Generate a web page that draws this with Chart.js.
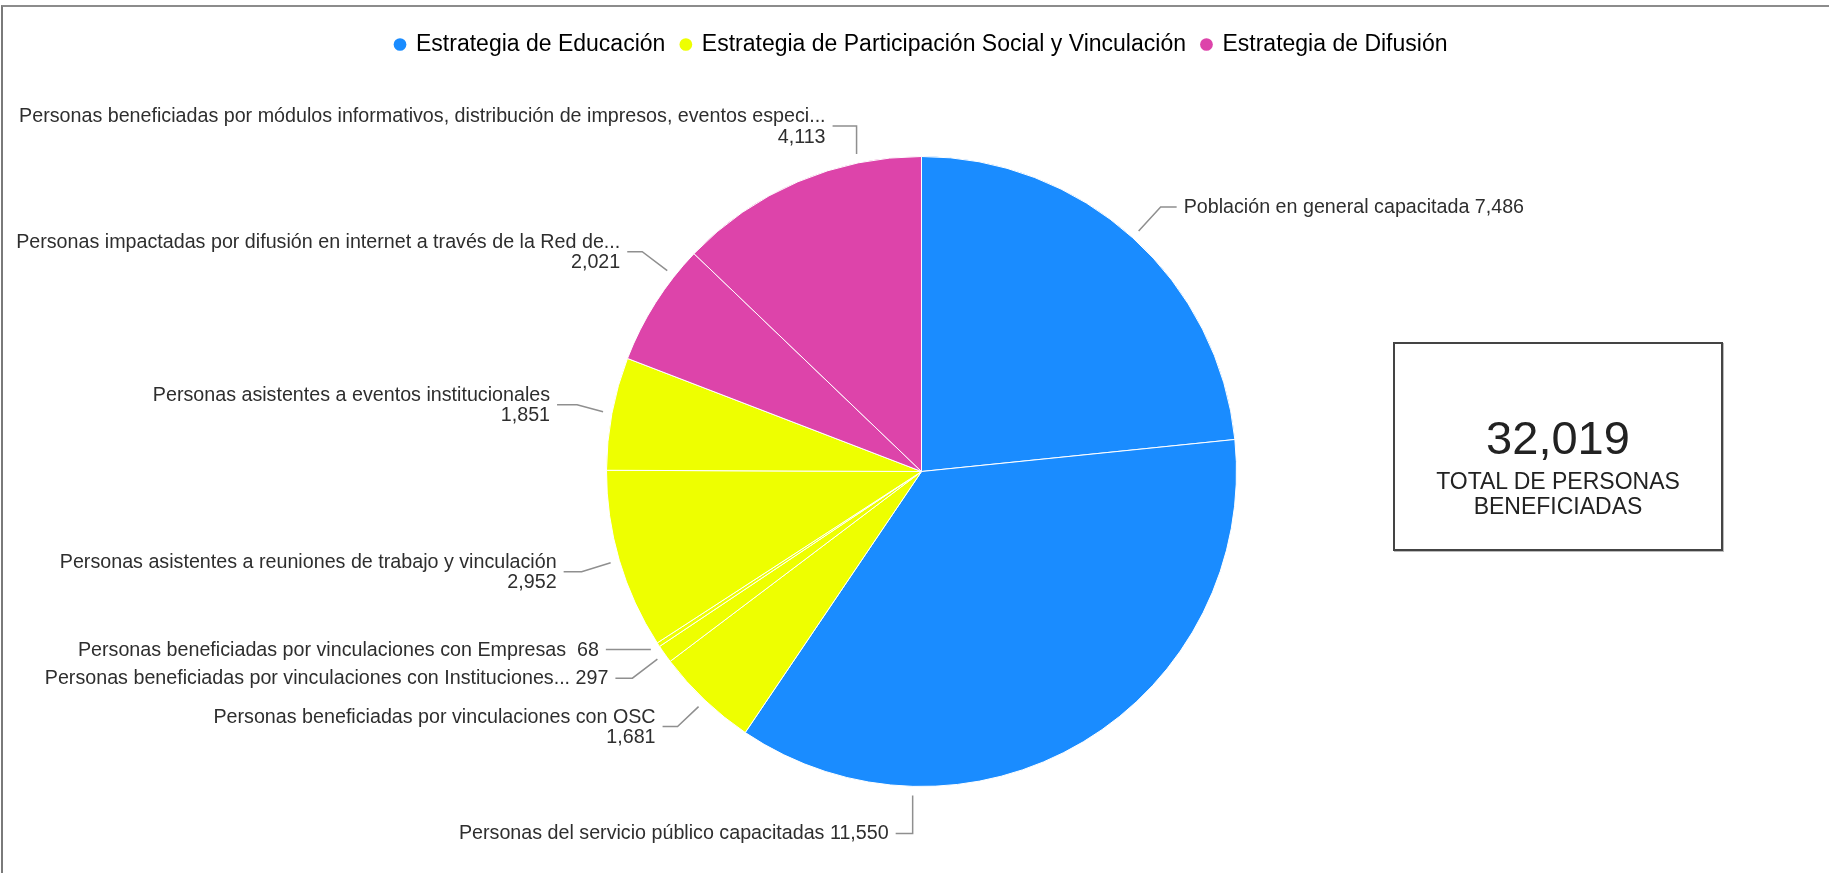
<!DOCTYPE html>
<html lang="es">
<head>
<meta charset="utf-8">
<title>Personas beneficiadas por estrategia</title>
<script src="https://cdn.jsdelivr.net/npm/chart.js@4.4.1/dist/chart.umd.min.js"></script>
<style>
    html, body { margin: 0; padding: 0; background: #fff; overflow: hidden; }
    #frame { position: absolute; left: 1px; top: 5px; width: 1840px; height: 866px;
             border-top: 2px solid #8c8c8c; border-left: 2px solid #7a7a7a; }
    #pieChart { position: absolute; left: 0; top: 0; }
    #total { position: absolute; left: 1393px; top: 342px; width: 330px; height: 209px;
             box-sizing: border-box; border: 2px solid #444; box-shadow: 1px 1px 0 #bbb;
             text-align: center; color: #222; font-family: "Liberation Sans", Arial, sans-serif; }
    #total_num { margin-top: 68px; font-size: 47px; line-height: 52px; }
    #total_cap { margin-top: 5px; font-size: 23px; line-height: 25px; }
</style>
</head>
<body>
<div id="frame"></div>
<canvas id="pieChart" width="1829" height="877"></canvas>
<div id="total"><div id="total_num"></div><div id="total_cap"></div></div>

<script>
// slices, clockwise from 12 o'clock
var categories = [
    'Población en general capacitada',
    'Personas del servicio público capacitadas',
    'Personas beneficiadas por vinculaciones con OSC',
    'Personas beneficiadas por vinculaciones con Instituciones...',
    'Personas beneficiadas por vinculaciones con Empresas ',
    'Personas asistentes a reuniones de trabajo y vinculación',
    'Personas asistentes a eventos institucionales',
    'Personas impactadas por difusión en internet a través de la Red de...',
    'Personas beneficiadas por módulos informativos, distribución de impresos, eventos especi...'
];
var values = [7486, 11550, 1681, 297, 68, 2952, 1851, 2021, 4113];
var strategyOf = [0, 0, 1, 1, 1, 1, 1, 2, 2];
var strategies = ['Estrategia de Educación', 'Estrategia de Participación Social y Vinculación', 'Estrategia de Difusión'];
var totalCaption = 'TOTAL DE PERSONAS BENEFICIADAS';

// styling
var strategyColors = ['#1a8cff', '#eeff00', '#dd44aa'];
var fontFamily = '"Liberation Sans", Arial, sans-serif';

// leader lines: where on the slice (0..1), elbow offset, horizontal run, two lines or one
var labelLayout = [
    { at: 0.50, dx: 22,  dy: -24, h: 16,  wrap: false },
    { at: 0.75, dx: 0,   dy: 38,  h: -17, wrap: false },
    { at: 0.50, dx: -21, dy: 20,  h: -15, wrap: true },
    { at: 0.50, dx: -25, dy: 19,  h: -17, wrap: false },
    { at: 0.50, dx: -27, dy: 0,   h: -18, wrap: false },
    { at: 0.50, dx: -29, dy: 9,   h: -18, wrap: true },
    { at: 0.50, dx: -26, dy: -7,  h: -20, wrap: true },
    { at: 0.76, dx: -25, dy: -19, h: -15, wrap: true },
    { at: 0.75, dx: 0,   dy: -28, h: -24, wrap: true }
];

function fmt(n) {
    return n.toLocaleString('en-US');
}

// total box
document.getElementById('total_num').textContent = fmt(values.reduce((a, b) => a + b, 0));
document.getElementById('total_cap').textContent = totalCaption;

// labels outside the pie with leader lines
const outsideLabels = {
    id: 'outsideLabels',
    afterDatasetsDraw(chart) {
        const ctx = chart.ctx;
        const arcs = chart.getDatasetMeta(0).data;
        ctx.save();
        ctx.font = '19.7px ' + fontFamily;
        ctx.fillStyle = '#2e2e2e';
        ctx.strokeStyle = '#8f8f8f';
        ctx.lineWidth = 1.5;
        ctx.textBaseline = 'middle';
        arcs.forEach((arc, i) => {
            const p = arc.getProps(['x', 'y', 'startAngle', 'endAngle', 'outerRadius'], true);
            const lay = labelLayout[i];
            const a = p.startAngle + (p.endAngle - p.startAngle) * lay.at;
            const r = p.outerRadius + 9;
            const x0 = p.x + Math.cos(a) * r;
            const y0 = p.y + Math.sin(a) * r;
            const x1 = x0 + lay.dx;
            const y1 = y0 + lay.dy;
            const x2 = x1 + lay.h;
            ctx.beginPath();
            ctx.moveTo(x0, y0);
            ctx.lineTo(x1, y1);
            ctx.lineTo(x2, y1);
            ctx.stroke();

            const onRight = lay.h > 0;
            ctx.textAlign = onRight ? 'left' : 'right';
            const tx = onRight ? x2 + 7 : x2 - 7;
            if (lay.wrap) {
                ctx.fillText(categories[i], tx, y1 - 9.5);
                ctx.fillText(fmt(values[i]), tx, y1 + 11);
            } else {
                ctx.fillText(categories[i] + ' ' + fmt(values[i]), tx, y1 + 0.5);
            }
        });
        ctx.restore();
    }
};

const pieCtx = document.getElementById('pieChart').getContext('2d');
new Chart(pieCtx, {
    type: 'pie',
    data: {
        labels: categories,
        datasets: [{
            data: values,
            backgroundColor: strategyOf.map(k => strategyColors[k]),
            borderColor: '#ffffff',
            borderWidth: 1
        }]
    },
    options: {
        responsive: false,
        animation: false,
        radius: 315,
        layout: { padding: { top: 17, bottom: -6, left: 300, right: 286 } },
        plugins: {
            tooltip: { enabled: false },
            legend: {
                position: 'top',
                onClick: null,
                labels: {
                    usePointStyle: true,
                    pointStyle: 'circle',
                    boxWidth: 9,
                    boxHeight: 9,
                    padding: 16,
                    color: '#333',
                    font: { family: fontFamily, size: 23 },
                    generateLabels: () => strategies.map((s, k) => ({
                        text: s,
                        fillStyle: strategyColors[k],
                        strokeStyle: strategyColors[k],
                        lineWidth: 0,
                        pointStyle: 'circle',
                        hidden: false,
                        index: k
                    }))
                }
            }
        }
    },
    plugins: [outsideLabels]
});
</script>
</body>
</html>
